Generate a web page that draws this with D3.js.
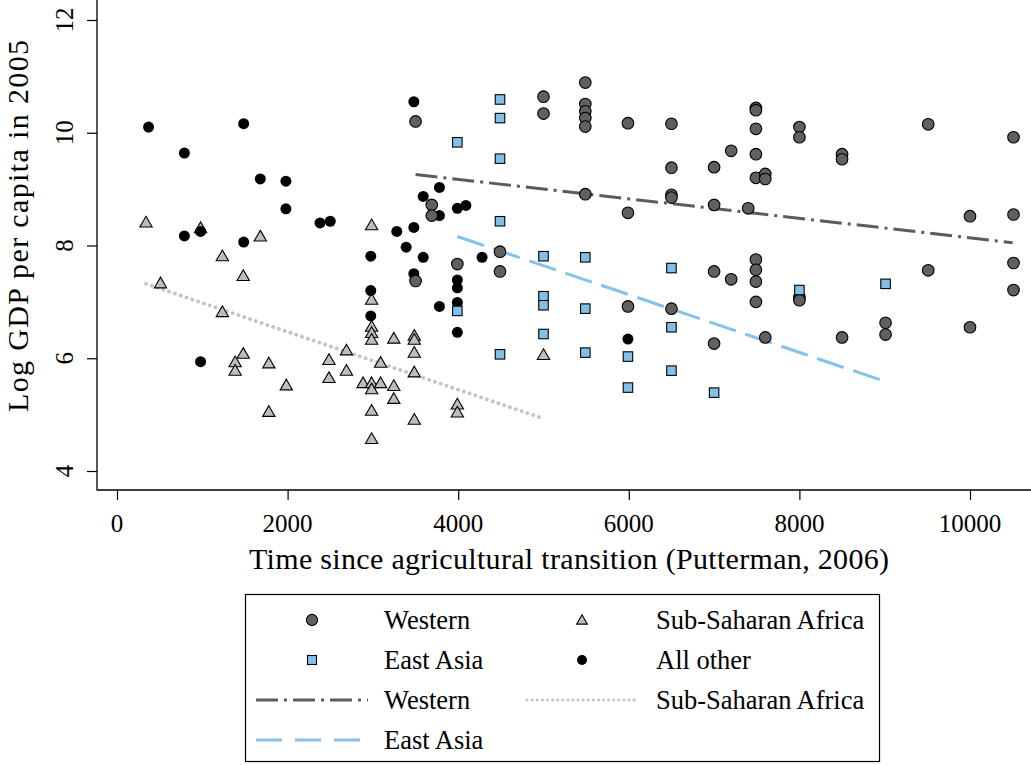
<!DOCTYPE html>
<html>
<head>
<meta charset="utf-8">
<script src="https://cdn.jsdelivr.net/npm/d3@7"></script>
<style>
  html, body { margin: 0; padding: 0; background: #fff; }
  svg { display: block; }
  text { font-family: "Liberation Serif", "Times New Roman", serif; fill: #000; }
</style>
</head>
<body>
<svg id="chart" width="1031" height="765"></svg>
<script>
// ---------------- DATA ----------------
const westernX = [3500, 3500, 3690, 3690, 3990, 4490, 4490, 5000, 5000,
  5490, 5490, 5490, 5490, 5490, 5490, 5990, 5990, 5990,
  6500, 6500, 6500, 6500, 6500, 7000, 7000, 7000, 7000, 7200, 7200, 7400,
  7490, 7490, 7490, 7490, 7490, 7490, 7490, 7490, 7490,
  7600, 7600, 7600, 8000, 8000, 8000, 8000, 8500, 8500, 8500,
  9010, 9010, 9510, 9510, 10000, 10000, 10510, 10510, 10510, 10510];
const westernY = [10.20, 7.37, 8.72, 8.53, 7.67, 7.89, 7.54, 10.64, 10.34,
  10.89, 10.51, 10.38, 10.26, 10.11, 8.91, 10.17, 8.58, 6.92,
  10.16, 9.38, 8.90, 8.85, 6.88, 9.39, 8.72, 7.54, 6.26, 9.68, 7.40, 8.66,
  10.44, 10.40, 10.07, 9.62, 9.20, 7.75, 7.57, 7.36, 7.00,
  9.27, 9.18, 6.37, 10.10, 9.92, 7.08, 7.03, 9.62, 9.53, 6.37,
  6.63, 6.42, 10.15, 7.56, 8.52, 6.55, 9.92, 8.55, 7.69, 7.21];

const eastAsiaX = [3990, 3990, 4490, 4490, 4490, 4490, 4490,
  5000, 5000, 5000, 5000, 5490, 5490, 5490, 5990, 5990,
  6500, 6500, 6500, 7000, 8000, 9010];
const eastAsiaY = [9.83, 6.84, 10.59, 10.26, 9.54, 8.43, 6.07,
  7.81, 7.10, 6.94, 6.43, 7.79, 6.88, 6.10, 6.03, 5.48,
  7.60, 6.55, 5.78, 5.39, 7.21, 7.32];

const ssaX = [340, 510, 980, 1235, 1235, 1385, 1385, 1480, 1480, 1680,
  1780, 1780, 1985, 2485, 2485, 2690, 2690, 2885,
  2985, 2985, 2985, 2985, 2985, 2985, 2985, 2985, 2985,
  3090, 3090, 3245, 3245, 3245, 3485, 3485, 3485, 3485, 3485,
  3990, 3990, 5000];
const ssaY = [8.41, 7.33, 8.31, 7.81, 6.82, 5.93, 5.78, 7.46, 6.08, 8.16,
  5.91, 5.05, 5.52, 5.97, 5.65, 6.14, 5.78, 5.56,
  8.36, 7.04, 6.56, 6.45, 6.33, 5.56, 5.45, 5.07, 4.57,
  5.92, 5.56, 6.35, 5.51, 5.28, 6.40, 6.33, 6.10, 5.75, 4.91,
  5.18, 5.04, 6.06];

const otherX = [370, 790, 790, 980, 980, 1485, 1485, 1680, 1980, 1980,
  2380, 2500, 2975, 2975, 2975, 3280, 3390, 3480, 3480, 3480,
  3590, 3590, 3780, 3780, 3780, 3990, 3990, 3990, 3990, 3990,
  4090, 4280, 5990];
const otherY = [10.10, 9.64, 8.17, 8.25, 5.94, 10.16, 8.06, 9.18, 9.14, 8.65,
  8.40, 8.43, 7.81, 7.20, 6.75, 8.25, 7.97, 10.55, 8.32, 7.50,
  8.87, 7.79, 9.03, 8.53, 6.92, 8.66, 7.39, 7.25, 6.99, 6.46,
  8.71, 7.79, 6.34];

// fitted lines (endpoints)
const westernFitX = [3500, 10500];
const westernFitY = [9.26, 8.05];
const eastAsiaFitX = [3990, 9000];
const eastAsiaFitY = [8.16, 5.59];
const ssaFitX = [340, 4960];
const ssaFitY = [7.32, 4.95];

const xTicks = [0, 2000, 4000, 6000, 8000, 10000];
const yTicks = [4, 6, 8, 10, 12];

const xTitle = "Time since agricultural transition (Putterman, 2006)";
const yTitle = "Log GDP per capita in 2005";

// ---------------- STYLE ----------------
const serifFam = "Liberation Serif, Times New Roman, serif";
const col = {
  western: "#606060",
  eastAsia: "#82c0ea",
  ssa: "#bdbdbd",
  other: "#000000",
  westernLine: "#5c5c5c",
  eastAsiaLine: "#84c2ec",
  ssaLine: "#c4c4c4"
};

const svg = d3.select("#chart");
const x = d3.scaleLinear().domain([0, 10000]).range([117, 970]);
const y = d3.scaleLinear().domain([4, 12]).range([471, 20]);

// frame (L-shaped)
svg.append("path")
  .attr("d", `M97,0 V490 H1031`)
  .attr("fill", "none").attr("stroke", "#000").attr("stroke-width", 1.3);

// x axis (tick marks from d3 axis, labels drawn with explicit serif font)
const xAxis = svg.append("g").attr("transform", "translate(0,490)")
  .call(d3.axisBottom(x).tickValues(xTicks).tickFormat("").tickSize(10));
xAxis.select(".domain").remove();
xAxis.selectAll("line").attr("stroke", "#000").attr("stroke-width", 1.2);
svg.append("g").selectAll("text").data(xTicks).join("text")
  .attr("x", d => x(d)).attr("y", 532)
  .attr("text-anchor", "middle")
  .attr("font-family", serifFam).attr("font-size", 25)
  .text(d => d3.format("d")(d));

// y axis
const yAxis = svg.append("g").attr("transform", "translate(97,0)")
  .call(d3.axisLeft(y).tickValues(yTicks).tickFormat("").tickSize(10));
yAxis.select(".domain").remove();
yAxis.selectAll("line").attr("stroke", "#000").attr("stroke-width", 1.2);
svg.append("g").selectAll("text").data(yTicks).join("text")
  .attr("transform", d => `translate(73,${y(d)}) rotate(-90)`)
  .attr("text-anchor", "middle")
  .attr("font-family", serifFam).attr("font-size", 25)
  .text(d => d3.format("d")(d));

// axis titles
svg.append("text")
  .attr("x", 569).attr("y", 569)
  .attr("text-anchor", "middle")
  .attr("textLength", 640).attr("lengthAdjust", "spacing")
  .style("font-size", "30px")
  .text(xTitle);
svg.append("text")
  .attr("transform", "translate(28,226) rotate(-90)")
  .attr("text-anchor", "middle")
  .attr("textLength", 372).attr("lengthAdjust", "spacing")
  .style("font-size", "30px")
  .text(yTitle);

// fitted lines
const line = d3.line().x(d => x(d[0])).y(d => y(d[1]));
const plotArea = svg.append("g");
plotArea.append("path")
  .datum(d3.zip(ssaFitX, ssaFitY))
  .attr("d", line).attr("fill", "none")
  .attr("stroke", col.ssaLine).attr("stroke-width", 3.8)
  .attr("stroke-linecap", "round").attr("stroke-dasharray", "0.1,6");
plotArea.append("path")
  .datum(d3.zip(westernFitX, westernFitY))
  .attr("d", line).attr("fill", "none")
  .attr("stroke", col.westernLine).attr("stroke-width", 3)
  .attr("stroke-dasharray", "22,6,3,6");
plotArea.append("path")
  .datum(d3.zip(eastAsiaFitX, eastAsiaFitY))
  .attr("d", line).attr("fill", "none")
  .attr("stroke", col.eastAsiaLine).attr("stroke-width", 3)
  .attr("stroke-dasharray", "28,10");

// points
const triPath = d3.symbol().type(d3.symbolTriangle).size(66)();
const sqSide = 9.5;

plotArea.append("g").selectAll("path")
  .data(d3.zip(ssaX, ssaY)).join("path")
  .attr("d", triPath)
  .attr("transform", d => `translate(${x(d[0])},${y(d[1]) + 1})`)
  .attr("fill", col.ssa).attr("stroke", "#000").attr("stroke-width", 1.1);

plotArea.append("g").selectAll("circle")
  .data(d3.zip(otherX, otherY)).join("circle")
  .attr("cx", d => x(d[0])).attr("cy", d => y(d[1])).attr("r", 5.5)
  .attr("fill", col.other);

plotArea.append("g").selectAll("circle")
  .data(d3.zip(westernX, westernY)).join("circle")
  .attr("cx", d => x(d[0])).attr("cy", d => y(d[1])).attr("r", 5.8)
  .attr("fill", col.western).attr("stroke", "#000").attr("stroke-width", 1.1);

plotArea.append("g").selectAll("rect")
  .data(d3.zip(eastAsiaX, eastAsiaY)).join("rect")
  .attr("x", d => x(d[0]) - sqSide / 2).attr("y", d => y(d[1]) - sqSide / 2)
  .attr("width", sqSide).attr("height", sqSide)
  .attr("fill", col.eastAsia).attr("stroke", "#000").attr("stroke-width", 1.1);

// ---------------- LEGEND ----------------
const lg = svg.append("g");
lg.append("rect").attr("x", 245.5).attr("y", 594.5).attr("width", 634).attr("height", 167)
  .attr("fill", "#fff").attr("stroke", "#000").attr("stroke-width", 1.2);

const rows = [620, 660, 700, 740];
const c1sym = 312, c1txt = 384, c2sym = 582, c2txt = 656;
const lgFont = "26.5px";

lg.append("circle").attr("cx", c1sym).attr("cy", rows[0]).attr("r", 5.6)
  .attr("fill", col.western).attr("stroke", "#000").attr("stroke-width", 1.1);
lg.append("rect").attr("x", c1sym - 4.5).attr("y", rows[1] - 4.5).attr("width", 9).attr("height", 9)
  .attr("fill", col.eastAsia).attr("stroke", "#000").attr("stroke-width", 1.1);
lg.append("path").attr("d", `M256,${rows[2]} H368`)
  .attr("stroke", col.westernLine).attr("stroke-width", 3).attr("fill", "none")
  .attr("stroke-dasharray", "22,6,3,6");
lg.append("path").attr("d", `M256,${rows[3]} H368`)
  .attr("stroke", col.eastAsiaLine).attr("stroke-width", 3).attr("fill", "none")
  .attr("stroke-dasharray", "26,13");

lg.append("path").attr("d", d3.symbol().type(d3.symbolTriangle).size(50)())
  .attr("transform", `translate(${c2sym},${rows[0] + 1})`)
  .attr("fill", col.ssa).attr("stroke", "#000").attr("stroke-width", 1.1);
lg.append("circle").attr("cx", c2sym).attr("cy", rows[1]).attr("r", 5)
  .attr("fill", col.other);
lg.append("path").attr("d", `M527,${rows[2]} H637`)
  .attr("stroke", col.ssaLine).attr("stroke-width", 3).attr("fill", "none")
  .attr("stroke-linecap", "round").attr("stroke-dasharray", "0.1,5");

const lgLabels = [
  [c1txt, rows[0], "Western"], [c1txt, rows[1], "East Asia"],
  [c1txt, rows[2], "Western"], [c1txt, rows[3], "East Asia"],
  [c2txt, rows[0], "Sub-Saharan Africa"], [c2txt, rows[1], "All other"],
  [c2txt, rows[2], "Sub-Saharan Africa"]
];
lg.selectAll("text.lbl").data(lgLabels).join("text")
  .attr("class", "lbl")
  .attr("x", d => d[0]).attr("y", d => d[1] + 9)
  .style("font-size", lgFont)
  .text(d => d[2]);
</script>
</body>
</html>
